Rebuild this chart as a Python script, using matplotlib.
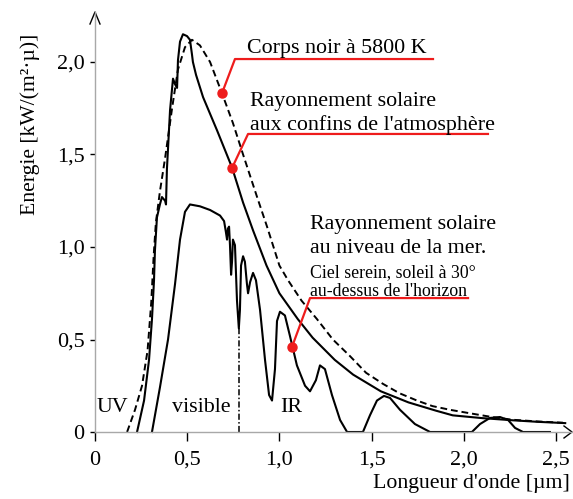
import numpy as np
import matplotlib.pyplot as plt

plt.rcParams['font.family'] = ['Liberation Serif', 'DejaVu Serif']

# corps noir a 5800 K (tirets)
bb_x = [0.174, 0.217, 0.255, 0.285, 0.305, 0.318, 0.330, 0.352, 0.380, 0.418, 0.450, 0.488, 0.526,
        0.569, 0.624, 0.689, 0.748, 0.803, 0.879, 0.933, 1.000, 1.047, 1.120, 1.204, 1.290,
        1.383, 1.470, 1.562, 1.650, 1.746, 1.830, 1.925, 2.040, 2.158, 2.267, 2.400, 2.538]
bb_y = [0.00, 0.12, 0.25, 0.44, 0.70, 0.95, 1.13, 1.30, 1.48, 1.75, 1.96, 2.08, 2.12,
        2.09, 2.00, 1.83, 1.67, 1.50, 1.27, 1.11, 0.90, 0.82, 0.71, 0.61, 0.50,
        0.41, 0.32, 0.26, 0.21, 0.17, 0.14, 0.12, 0.10, 0.08, 0.066, 0.057, 0.05]

# rayonnement solaire aux confins de l'atmosphere
ext_x = [0.228, 0.266, 0.293, 0.309, 0.320, 0.325, 0.336, 0.352, 0.363, 0.380, 0.385, 0.390,
         0.407, 0.423, 0.434, 0.445, 0.450, 0.461, 0.477, 0.499, 0.515, 0.526, 0.531, 0.548,
         0.586, 0.662, 0.743, 0.803, 0.857, 0.930, 1.000, 1.100, 1.180, 1.300, 1.400, 1.550,
         1.700, 1.850, 1.940, 2.100, 2.270, 2.400, 2.550]
ext_y = [0.00, 0.17, 0.39, 0.61, 0.82, 0.98, 1.16, 1.23, 1.27, 1.25, 1.23, 1.42,
         1.74, 1.91, 1.88, 1.86, 2.01, 2.11, 2.15, 2.14, 2.12, 2.04, 2.00, 1.93,
         1.81, 1.63, 1.43, 1.24, 1.09, 0.90, 0.75, 0.61, 0.51, 0.39, 0.31, 0.22,
         0.16, 0.115, 0.09, 0.075, 0.063, 0.055, 0.048]

# rayonnement solaire au niveau de la mer
sea_x = [0.309, 0.352, 0.396, 0.434, 0.461, 0.488, 0.515, 0.569, 0.624, 0.678, 0.700, 0.710,
         0.716, 0.721, 0.727, 0.732, 0.738, 0.743, 0.748, 0.759, 0.770, 0.780, 0.786, 0.792,
         0.803, 0.813, 0.824, 0.830, 0.841, 0.857, 0.873, 0.895, 0.922, 0.944, 0.960, 0.976,
         0.987, 1.003, 1.030, 1.057, 1.095, 1.139, 1.166, 1.198, 1.220, 1.247, 1.285, 1.329,
         1.367, 1.453, 1.491, 1.529, 1.567, 1.600, 1.654, 1.735, 1.817, 2.044, 2.088, 2.142,
         2.196, 2.240, 2.278, 2.321, 2.467]
sea_y = [0.00, 0.24, 0.50, 0.80, 1.04, 1.19, 1.23, 1.22, 1.20, 1.17, 1.14, 1.08,
         1.04, 1.10, 1.11, 1.01, 0.85, 0.92, 1.04, 1.01, 0.71, 0.56, 0.66, 0.90,
         0.95, 0.92, 0.80, 0.75, 0.81, 0.86, 0.82, 0.66, 0.39, 0.20, 0.17, 0.34,
         0.60, 0.65, 0.63, 0.52, 0.36, 0.25, 0.22, 0.28, 0.36, 0.34, 0.20, 0.065,
         0.00, 0.00, 0.09, 0.17, 0.195, 0.184, 0.12, 0.043, 0.00, 0.00, 0.043, 0.076,
         0.081, 0.065, 0.022, 0.00, 0.00]

# limite visible / IR
vis_x = 0.78
vis_top = 0.56

xticks = [0, 0.5, 1.0, 1.5, 2.0, 2.5]
xlabels = ['0', '0,5', '1,0', '1,5', '2,0', '2,5']
yticks = [0, 0.5, 1.0, 1.5, 2.0]
ylabels = ['0', '0,5', '1,0', '1,5', '2,0']

fig = plt.figure(figsize=(5.73, 4.99), dpi=100)
ax = fig.add_axes([95/573, 67/499, 477/573, 420/499])
ax.set_xlim(0, 477/184.4)
ax.set_ylim(0, 420/185)

ax.plot(bb_x, bb_y, color='black', lw=1.4, ls=(0, (3.5, 2)), clip_on=False)
ax.plot(ext_x, ext_y, color='black', lw=1.5, clip_on=False)
ax.plot(sea_x, sea_y, color='black', lw=1.5, clip_on=False)
ax.plot([vis_x, vis_x], [0, vis_top], color='black', lw=1.1, ls=(0, (4, 1.5, 1, 1.5)))

for s in ['top', 'right']:
    ax.spines[s].set_visible(False)
for s in ['left', 'bottom']:
    ax.spines[s].set_color('#a8a8a8')
    ax.spines[s].set_linewidth(1.0)

# fleches des axes
ax.plot([1 - 8/477, 1, 1 - 8/477], [6/420, 0, -6/420], transform=ax.transAxes,
        color='black', lw=1.0, clip_on=False)
ax.plot([-5/477, 0, 5/477], [1 - 12/420, 1, 1 - 12/420], transform=ax.transAxes,
        color='black', lw=1.0, clip_on=False)

ax.set_xticks(xticks)
ax.set_xticklabels(xlabels)
ax.set_yticks(yticks)
ax.set_yticklabels(ylabels)
ax.tick_params(axis='x', direction='out', length=6.5, width=1.0, pad=7, labelsize=16)
ax.tick_params(axis='y', direction='out', length=3.5, width=1.0, pad=4, labelsize=16)

fig.text(30/573, 1 - 124/499, 'Energie [kW/(m²·µ)]', rotation=90, ha='center', va='center',
         fontsize=15.6)
fig.text(570/573, 1 - 488/499, "Longueur d'onde [µm]", ha='right', va='baseline', fontsize=15.7)

ax.text(0.011, 0.108, 'UV', fontsize=15.8)
ax.text(0.418, 0.108, 'visible', fontsize=15.8)
ax.text(1.003, 0.108, 'IR', fontsize=15.8)

red = '#ee1c1c'
ax.text(0.824, 2.048, 'Corps noir à 5800 K', fontsize=15.8)
ax.plot([0.689, 0.759, 1.833], [1.832, 2.016, 2.016], color=red, lw=1.6)
ax.plot([0.689], [1.832], 'o', color=red, ms=6.5)

ax.text(0.841, 1.762, 'Rayonnement solaire', fontsize=15.8)
ax.text(0.841, 1.632, "aux confins de l'atmosphère", fontsize=15.8)
ax.plot([0.743, 0.830, 2.131], [1.427, 1.611, 1.611], color=red, lw=1.6)
ax.plot([0.743], [1.427], 'o', color=red, ms=6.5)

ax.text(1.166, 1.097, 'Rayonnement solaire', fontsize=15.8)
ax.text(1.166, 0.968, 'au niveau de la mer.', fontsize=15.8)
ax.text(1.166, 0.838, 'Ciel serein, soleil à 30°', fontsize=12.8)
ax.text(1.166, 0.735, "au-dessus de l'horizon", fontsize=12.8)
ax.plot([1.068, 1.166, 2.023], [0.459, 0.724, 0.724], color=red, lw=1.6)
ax.plot([1.068], [0.459], 'o', color=red, ms=6.5)

plt.savefig('out.png', dpi=100)
